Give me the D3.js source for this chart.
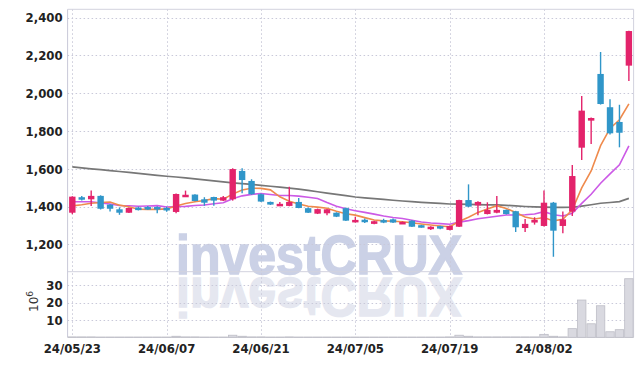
<!DOCTYPE html>
<html><head><meta charset="utf-8">
<script src="https://cdn.jsdelivr.net/npm/d3@7/dist/d3.min.js"></script>
<style>
html,body{margin:0;padding:0;background:#fff;}
svg{display:block;}
</style></head>
<body>
<svg id="chart" width="642" height="366"></svg>
<script>
const dates = ["24/05/23","24/05/24","24/05/27","24/05/28","24/05/29","24/05/30","24/05/31","24/06/03","24/06/04","24/06/05",
"24/06/07","24/06/10","24/06/11","24/06/12","24/06/13","24/06/14","24/06/17","24/06/18","24/06/19","24/06/20",
"24/06/21","24/06/24","24/06/25","24/06/26","24/06/27","24/06/28","24/07/01","24/07/02","24/07/03","24/07/04",
"24/07/05","24/07/08","24/07/09","24/07/10","24/07/11","24/07/12","24/07/15","24/07/16","24/07/17","24/07/18",
"24/07/19","24/07/22","24/07/23","24/07/24","24/07/25","24/07/26","24/07/29","24/07/30","24/07/31","24/08/01",
"24/08/02","24/08/05","24/08/06","24/08/07","24/08/08","24/08/09","24/08/12","24/08/13","24/08/14","24/08/16"];

const open  = [1368,1450,1439,1457,1411,1386,1368,1395,1398,1398, 1393,1372,1457,1464,1439,1451,1432,1439,1589,1536,
               1466,1425,1411,1404,1425,1392,1363,1365,1368,1392, 1319,1331,1309,1329,1333,1313,1326,1302,1284,1297,
               1277,1294,1435,1407,1361,1368,1383,1376,1287,1316, 1298,1421,1298,1374,1712,1855,2102,1926,1848,2146];
const high  = [1455,1457,1485,1460,1413,1396,1396,1400,1404,1402, 1400,1470,1485,1466,1450,1453,1457,1603,1603,1545,
               1470,1427,1425,1506,1446,1395,1390,1388,1370,1395, 1347,1338,1325,1336,1337,1322,1328,1304,1296,1299,
               1300,1437,1518,1428,1423,1457,1385,1378,1335,1344, 1486,1425,1374,1620,1985,1872,2218,1968,1939,2330];
const low   = [1360,1432,1404,1385,1374,1357,1366,1380,1383,1365, 1373,1365,1452,1428,1405,1405,1430,1432,1471,1463,
               1425,1409,1405,1402,1392,1366,1361,1354,1345,1324, 1316,1313,1307,1313,1314,1310,1292,1289,1277,1280,
               1275,1292,1398,1354,1359,1365,1359,1266,1266,1305, 1295,1135,1259,1351,1647,1731,1940,1782,1714,2065];
const close = [1453,1437,1457,1389,1389,1368,1393,1392,1387,1388, 1381,1467,1463,1430,1421,1432,1450,1599,1541,1466,
               1427,1411,1415,1425,1393,1368,1387,1386,1347,1326, 1330,1321,1323,1323,1316,1319,1294,1291,1294,1291,
               1298,1435,1400,1425,1383,1383,1361,1291,1309,1330, 1421,1273,1333,1562,1908,1869,1943,1788,1791,2329];
// closes of the 9 sessions before the window (needed for the moving averages at the start)
const leadCloses = [1440,1455,1450,1445,1450,1407,1417,1369,1374];
// 60-session moving average
const ma60 = [1610,1605,1600,1596,1591,1586,1581,1576,1571,1566, 1561,1557,1552,1547,1542,1536,1531,1526,1522,1518,
              1513,1508,1503,1498,1493,1486,1479,1472,1465,1458, 1451,1447,1443,1439,1434,1430,1427,1423,1420,1417,
              1414,1413,1412,1411,1410,1409,1407,1404,1401,1399, 1398,1396,1396,1397,1403,1410,1418,1422,1427,1444];
// volume in millions
const volume = [0.2,0.2,0.2,0.1,0.1,0.1,0.1,0.1,0.1,0.1, 0.1,0.6,0.2,0.2,0.1,0.1,0.1,1.2,0.6,0.2,
                0.2,0.1,0.1,0.2,0.1,0.1,0.1,0.1,0.1,0.1, 0.1,0.1,0.1,0.1,0.1,0.1,0.1,0.1,0.1,0.1,
                0.2,1.2,0.6,0.2,0.2,0.2,0.2,0.2,0.2,0.2, 1.7,0.6,0.2,5.0,21.5,7.8,18.2,3.2,4.4,33.8];
const priceTicks = [1200,1400,1600,1800,2000,2200,2400];
const volTicks = [10,20,30];
const labelEvery = 10;

const svg = d3.select("#chart");
const L = 67.6, R = 633.6, T = 9.3, MB = 271.7, VB = 337.3;
const fontTick = "'DejaVu Sans Condensed','DejaVu Sans',sans-serif";

const x = d3.scaleBand().domain(dates).range([L, R]).padding(0);
const xc = d => x(d) + x.bandwidth() / 2;
const y = d3.scaleLinear().domain([1056, 2444]).range([MB, T]);
const yv = d3.scaleLinear().domain([0, 37.85]).range([VB, MB]);

const rows = dates.map((d, i) => ({d, i, o: open[i], h: high[i], l: low[i], c: close[i], v: volume[i]}));
const allClose = leadCloses.concat(close);
function ma(n) {
  return close.map((_, i) => d3.mean(allClose.slice(i + leadCloses.length - n + 1, i + leadCloses.length + 1)));
}
const ma5 = ma(5), ma10 = ma(10);

// watermark with reflection
const wm = svg.append("g").attr("font-family", "'Liberation Sans','Arial',sans-serif").attr("font-weight", "bold")
  .attr("font-size", 56);
wm.append("text").attr("transform", "translate(0,552) scale(1,-1)")
  .attr("x", 176).attr("y", 274).attr("textLength", 286).attr("lengthAdjust", "spacingAndGlyphs")
  .attr("fill", "#e5e7f0").attr("stroke", "#e5e7f0").attr("stroke-width", 1.5).text("investCRUX");
wm.append("text").attr("x", 176).attr("y", 274).attr("textLength", 286).attr("lengthAdjust", "spacingAndGlyphs")
  .attr("fill", "#cbd1e6").attr("stroke", "#cbd1e6").attr("stroke-width", 1.5).text("investCRUX");

// grid
const grid = svg.append("g").attr("stroke", "#c9c9d9").attr("stroke-dasharray", "1.5,2.5").attr("stroke-width", 1);
grid.selectAll("line.h").data(priceTicks).join("line")
  .attr("x1", L).attr("x2", R).attr("y1", d => Math.round(y(d)) + 0.5).attr("y2", d => Math.round(y(d)) + 0.5);
grid.selectAll("line.v").data(volTicks).join("line")
  .attr("x1", L).attr("x2", R).attr("y1", d => Math.round(yv(d)) + 0.5).attr("y2", d => Math.round(yv(d)) + 0.5);
const tickDates = dates.filter((d, i) => i % labelEvery === 0);
grid.selectAll("line.x").data(tickDates).join("line")
  .attr("x1", d => Math.round(xc(d)) + 0.5).attr("x2", d => Math.round(xc(d)) + 0.5).attr("y1", T).attr("y2", VB);

// frame
const frame = svg.append("g").attr("stroke", "#d2d2de").attr("fill", "none").attr("stroke-width", 1);
frame.append("line").attr("x1", L).attr("x2", R).attr("y1", T).attr("y2", T);
frame.append("line").attr("x1", R).attr("x2", R).attr("y1", T).attr("y2", VB);
frame.append("line").attr("x1", L).attr("x2", R).attr("y1", MB).attr("y2", MB);
frame.append("line").attr("x1", L).attr("x2", R).attr("y1", VB).attr("y2", VB).attr("stroke", "#c8c8d0");
frame.append("line").attr("x1", L).attr("x2", L).attr("y1", T).attr("y2", VB).attr("stroke", "#c8c8d8");

// volume bars
svg.append("g").selectAll("rect").data(rows).join("rect")
  .attr("x", d => x(d.d) + 0.5).attr("width", x.bandwidth() - 1)
  .attr("y", d => yv(d.v)).attr("height", d => VB - yv(d.v))
  .attr("fill", "#d9d9e0").attr("stroke", "#bdbdc6").attr("stroke-width", 0.8);

// moving averages
const line = arr => d3.line().x((v, i) => xc(dates[i])).y(v => y(v))(arr);
svg.append("path").attr("d", line(ma60)).attr("fill", "none").attr("stroke", "#777").attr("stroke-width", 1.7);
svg.append("path").attr("d", line(ma10)).attr("fill", "none").attr("stroke", "#cc5ae6").attr("stroke-width", 1.6);
svg.append("path").attr("d", line(ma5)).attr("fill", "none").attr("stroke", "#ef8a4c").attr("stroke-width", 1.6);

// candles
const up = "#e3236b", down = "#3096c9";
const cg = svg.append("g").selectAll("g").data(rows).join("g");
cg.append("line").attr("x1", d => xc(d.d)).attr("x2", d => xc(d.d))
  .attr("y1", d => y(d.h)).attr("y2", d => y(d.l))
  .attr("stroke", d => d.c >= d.o ? up : down).attr("stroke-width", 1.4);
const bw = 6.4;
cg.append("rect").attr("x", d => xc(d.d) - bw / 2).attr("width", bw)
  .attr("y", d => y(Math.max(d.o, d.c)))
  .attr("height", d => Math.max(2.5, Math.abs(y(d.o) - y(d.c))))
  .attr("fill", d => d.c >= d.o ? up : down);

// axes labels
const styleText = sel => sel.selectAll("text").attr("font-family", fontTick).attr("font-weight", "bold")
  .attr("font-size", 13).attr("fill", "#222");
const ya = svg.append("g").attr("transform", `translate(${L},0)`)
  .call(d3.axisLeft(y).tickValues(priceTicks).tickSize(0).tickPadding(5).tickFormat(d3.format(",")));
ya.select(".domain").remove(); styleText(ya);

const va = svg.append("g").attr("transform", `translate(${L},0)`)
  .call(d3.axisLeft(yv).tickValues(volTicks).tickSize(0).tickPadding(5));
va.select(".domain").remove(); styleText(va);

const xa = svg.append("g").attr("transform", `translate(0,${VB})`)
  .call(d3.axisBottom(x).tickValues(tickDates).tickSize(0).tickPadding(6));
xa.select(".domain").remove(); styleText(xa);

// unit label
const ul = svg.append("text").attr("transform", "translate(37.5,312) rotate(-90)")
  .attr("font-family", "'DejaVu Sans',sans-serif").attr("font-size", 12).attr("fill", "#333");
ul.append("tspan").text("10");
ul.append("tspan").attr("dy", -5).attr("font-size", 9).text("6");
</script>
</body></html>
